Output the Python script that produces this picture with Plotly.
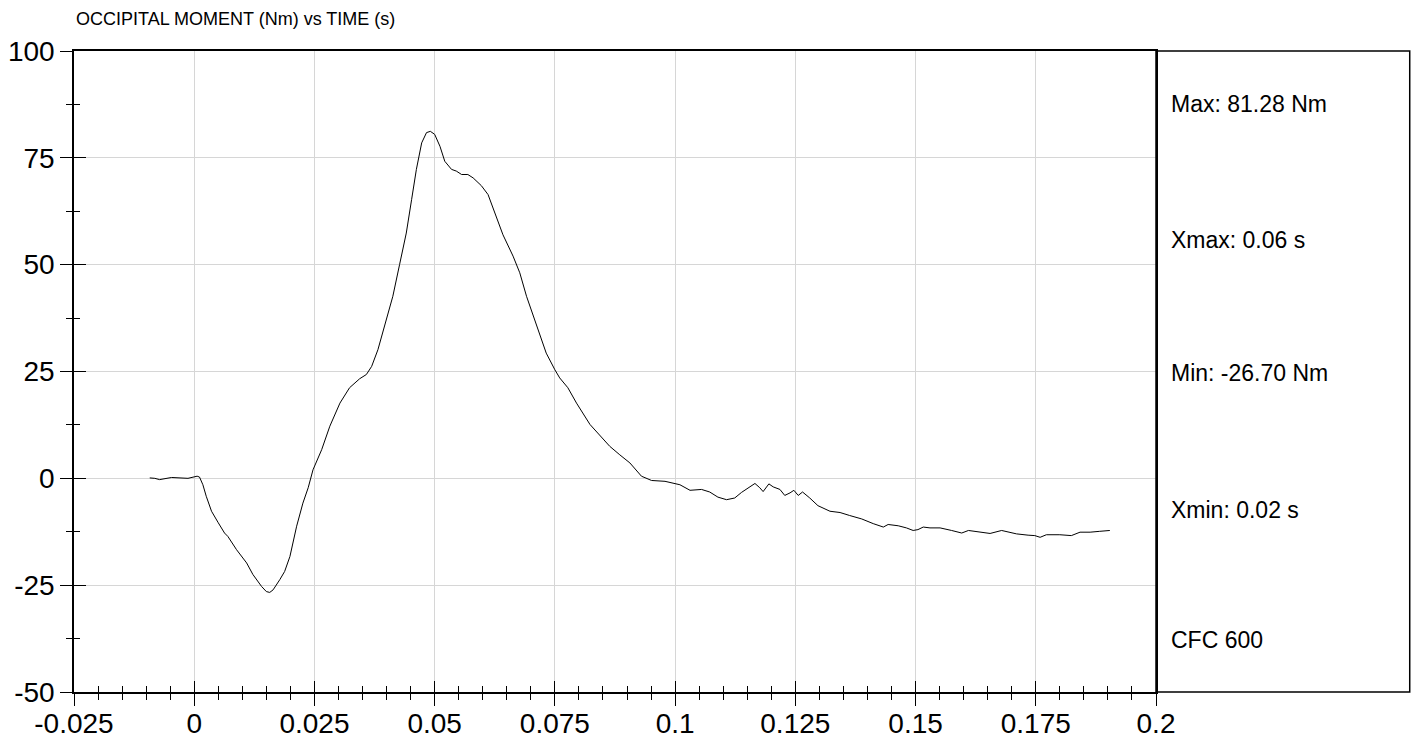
import plotly.graph_objects as go

# time (s) and occipital moment (Nm)
time_s = [-0.00925, -0.0082, -0.0072, -0.0047, -0.0013, 0.0006, 0.0011, 0.0018, 0.0025, 0.0036,
          0.005, 0.0063, 0.007, 0.0088, 0.0109, 0.0122, 0.014, 0.015, 0.0157, 0.0164,
          0.0178, 0.0188, 0.0199, 0.0213, 0.0226, 0.0237, 0.0247, 0.0265, 0.0282, 0.0303,
          0.0323, 0.0344, 0.0358, 0.0369, 0.0382, 0.04, 0.0413, 0.0427, 0.0441, 0.0452,
          0.0462, 0.0473, 0.0483, 0.0491, 0.05, 0.0511, 0.0521, 0.0535, 0.0545, 0.0556,
          0.0569, 0.058, 0.0597, 0.0611, 0.0625, 0.0642, 0.0663, 0.0677, 0.0691, 0.0705,
          0.0719, 0.0732, 0.075, 0.076, 0.0777, 0.0795, 0.0823, 0.0843, 0.0864, 0.0885,
          0.0906, 0.093, 0.0951, 0.0979, 0.101, 0.1031, 0.1055, 0.1072, 0.1089, 0.1107,
          0.1124, 0.1138, 0.1155, 0.1166, 0.1176, 0.1183, 0.1195, 0.1204, 0.1218, 0.1228,
          0.1239, 0.1247, 0.1256, 0.1265, 0.128, 0.1297, 0.1322, 0.1343, 0.1363, 0.1388,
          0.1412, 0.1433, 0.1443, 0.1464, 0.1481, 0.1495, 0.1505, 0.1516, 0.153, 0.1551,
          0.1575, 0.1596, 0.161, 0.1627, 0.1655, 0.1679, 0.1689, 0.171, 0.1734, 0.1748,
          0.1759, 0.1772, 0.18, 0.1824, 0.1842, 0.1863, 0.1883, 0.1904]
moment_nm = [0.1, 0.0, -0.3, 0.2, 0.0, 0.5, 0.3, -1.5, -4.2, -7.7,
             -10.4, -12.8, -13.6, -16.7, -19.8, -22.5, -25.3, -26.5, -26.7, -26.1,
             -23.7, -21.8, -18.3, -11.2, -5.8, -2.2, 2.0, 6.7, 12.2, 17.6,
             21.2, 23.3, 24.3, 26.2, 30.1, 37.1, 42.6, 50.0, 57.4, 65.2,
             72.3, 78.5, 80.9, 81.2, 80.5, 77.7, 74.2, 72.3, 71.9, 71.1,
             71.1, 70.3, 68.5, 66.4, 62.1, 57.0, 52.0, 48.1, 42.6, 37.9,
             33.2, 29.3, 25.4, 23.5, 21.2, 17.6, 12.6, 10.2, 7.5, 5.5,
             3.6, 0.5, -0.5, -0.7, -1.5, -2.8, -2.6, -3.2, -4.4, -5.0,
             -4.6, -3.3, -1.9, -1.2, -2.2, -3.1, -1.3, -2.0, -2.6, -4.0,
             -3.4, -2.8, -4.0, -3.2, -4.6, -6.4, -7.7, -8.0, -8.7, -9.5,
             -10.6, -11.4, -10.8, -11.1, -11.6, -12.2, -12.0, -11.4, -11.6, -11.6,
             -12.2, -12.8, -12.2, -12.5, -12.9, -12.2, -12.5, -13.0, -13.3, -13.4,
             -13.8, -13.2, -13.2, -13.4, -12.6, -12.6, -12.4, -12.2]

x_ticks = [-0.025, 0, 0.025, 0.05, 0.075, 0.1, 0.125, 0.15, 0.175, 0.2]
x_labels = ["-0.025", "0", "0.025", "0.05", "0.075", "0.1", "0.125", "0.15", "0.175", "0.2"]
y_ticks = [-50, -25, 0, 25, 50, 75, 100]
y_labels = ["-50", "-25", "0", "25", "50", "75", "100"]

stats = ["Max: 81.28 Nm", "Xmax: 0.06 s", "Min: -26.70 Nm", "Xmin: 0.02 s", "CFC 600"]
stats_y = [0.917, 0.705, 0.498, 0.284, 0.081]

font = "Liberation Sans, Arial, sans-serif"

fig = go.Figure()
fig.add_trace(go.Scatter(x=time_s, y=moment_nm, mode="lines",
                         line=dict(color="black", width=1), showlegend=False))
# invisible copy so the overlay axes (ticks on the other side) get drawn
fig.add_trace(go.Scatter(x=time_s, y=moment_nm, mode="lines", xaxis="x2", yaxis="y2",
                         line=dict(color="rgba(0,0,0,0)", width=1), showlegend=False,
                         hoverinfo="skip"))

axis_common = dict(showline=True, linecolor="black", linewidth=1.5, zeroline=False,
                   tickcolor="black", tickwidth=1.2, automargin=False,
                   tickfont=dict(family=font, size=28, color="black"))

# page body has an 8px margin, so the figure is shifted to land on the window
fig.update_layout(
    width=1406, height=734,
    margin=dict(l=66, r=258, t=43, b=50),
    plot_bgcolor="white", paper_bgcolor="white",
    xaxis=dict(range=[-0.025, 0.2], tickmode="array", tickvals=x_ticks, ticktext=x_labels,
               ticks="inside", ticklen=11, mirror=True, ticklabelstandoff=6,
               showgrid=True, gridcolor="#d6d6d6", gridwidth=1,
               minor=dict(tickmode="linear", tick0=0, dtick=0.005, ticks="inside",
                          ticklen=6, tickcolor="black", tickwidth=1.2, showgrid=False),
               **axis_common),
    yaxis=dict(range=[-50, 100], tickmode="array", tickvals=y_ticks, ticktext=y_labels,
               ticks="outside", ticklen=12, mirror=True,
               showgrid=True, gridcolor="#d6d6d6", gridwidth=1,
               minor=dict(tickmode="linear", tick0=0, dtick=12.5, ticks="outside",
                          ticklen=6, tickcolor="black", tickwidth=1.2, showgrid=False),
               **axis_common),
    xaxis2=dict(range=[-0.025, 0.2], overlaying="x", anchor="y2", side="bottom",
                tickmode="array", tickvals=x_ticks, ticks="outside", ticklen=13,
                showticklabels=False, showgrid=False, zeroline=False, showline=False,
                tickcolor="black", tickwidth=1.2, automargin=False,
                minor=dict(tickmode="linear", tick0=0, dtick=0.005, ticks="outside",
                           ticklen=7, tickcolor="black", tickwidth=1.2, showgrid=False)),
    yaxis2=dict(range=[-50, 100], overlaying="y", anchor="x2", side="left",
                tickmode="array", tickvals=y_ticks, ticks="inside", ticklen=12,
                showticklabels=False, showgrid=False, zeroline=False, showline=False,
                tickcolor="black", tickwidth=1.2, automargin=False,
                minor=dict(tickmode="linear", tick0=0, dtick=12.5, ticks="inside",
                           ticklen=6, tickcolor="black", tickwidth=1.2, showgrid=False)),
)

# stats panel to the right of the plot
fig.add_shape(type="rect", xref="paper", yref="paper", x0=1.0, x1=1.2345, y0=0, y1=1,
              line=dict(color="black", width=1.5), fillcolor="rgba(0,0,0,0)")
for txt, yy in zip(stats, stats_y):
    fig.add_annotation(text=txt, xref="paper", yref="paper", x=1.012, y=yy,
                       xanchor="left", yanchor="middle", showarrow=False,
                       font=dict(family=font, size=23, color="black"))

fig.add_annotation(text="OCCIPITAL MOMENT (Nm) vs TIME (s)", xref="paper", yref="paper",
                   x=0.0, y=1.05, xanchor="left", yanchor="middle", showarrow=False,
                   font=dict(family=font, size=18, color="black"))

fig.write_html("out.html")
